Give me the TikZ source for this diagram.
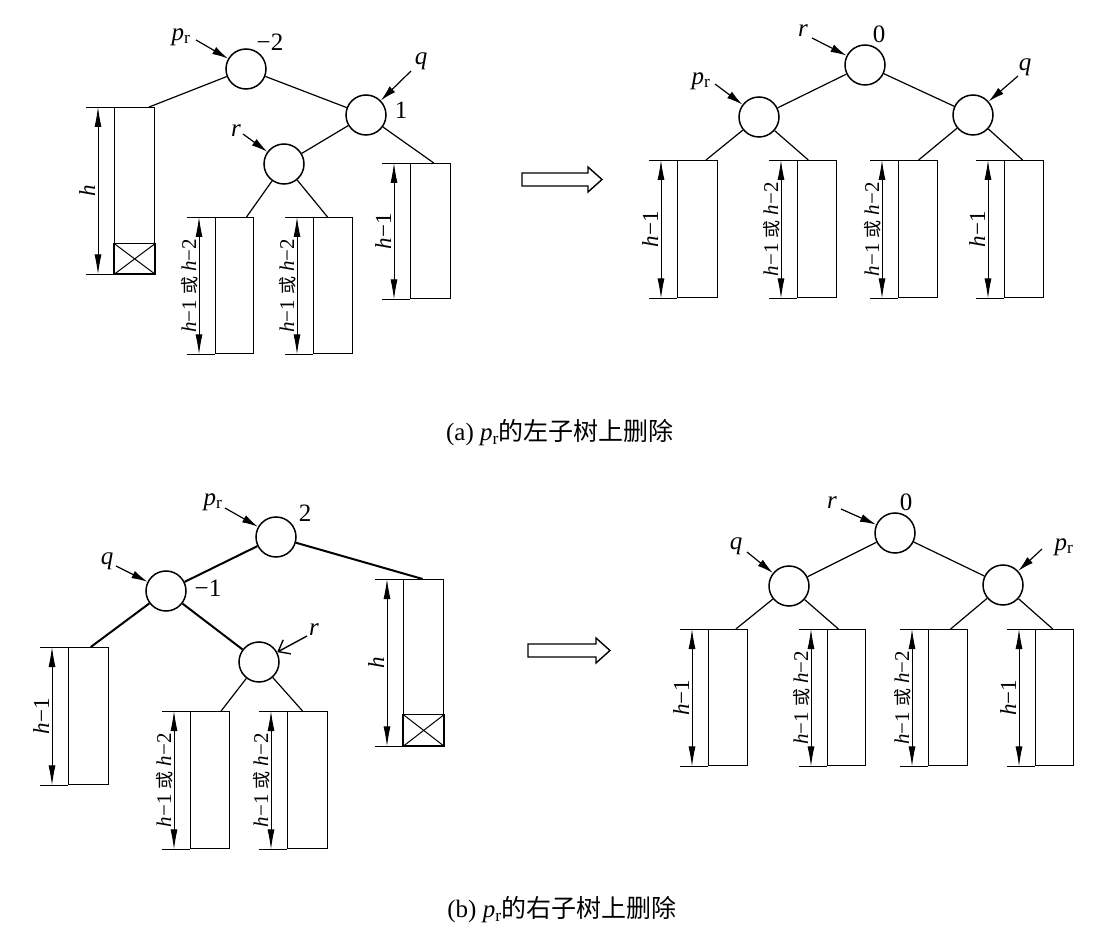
\documentclass[tikz,border=0pt]{standalone}
\usepackage{fontspec}
\setmainfont{Liberation Serif}
\newfontfamily\cjk{Noto Sans CJK SC}
\usetikzlibrary{arrows.meta,calc}
\newcommand\hh[1]{\textit{h}−#1}
\newcommand\orlab{{\fontsize{21}{22}\selectfont\hh1\hspace{5pt}{\cjk\fontsize{18}{18}\selectfont 或}\hspace{5pt}\hh2}}
\newcommand\pr{\textit{p}\textsubscript{r}}
% name, x, y, width, height, label
\newcommand\mysubtree[6]{%
  \node[box,minimum width=#4pt,minimum height=#5pt,anchor=north west] (#1) at (#2,#3) {};
  \draw[ext] ($(#1.north west)+(-28,0)$) -- (#1.north west);
  \draw[ext] ($(#1.south west)+(-28,0)$) -- (#1.south west);
  \draw[dimline] ($(#1.north west)+(-16,0)$) -- ($(#1.south west)+(-16,0)$);
  \node[lab,rotate=90,anchor=base] (#1l) at ($(#1.west)+(-19,0)$) {#6};
}
\newcommand\mycross[2]{%
  \draw[box] (#1.south west) rectangle ($(#1.south east)+(0,-#2)$);
  \draw[line width=1pt] (#1.south west) -- ($(#1.south east)+(0,-#2)$);
  \draw[line width=1pt] (#1.south east) -- ($(#1.south west)+(0,-#2)$);
}
\begin{document}
\begin{tikzpicture}[x=1pt,y=-1pt,
  nd/.style={circle,draw,line width=1.5pt,minimum size=40pt,inner sep=0pt},
  box/.style={rectangle,draw,line width=1.4pt,inner sep=0pt},
  edge/.style={line width=1.2pt},
  thickedge/.style={line width=2pt},
  ext/.style={line width=0.7pt},
  dimline/.style={line width=0.9pt,{Latex[length=20pt,width=7pt]}-{Latex[length=20pt,width=7pt]}},
  ptr/.style={line width=1.2pt,-{Latex[length=16pt,width=8pt]}},
  optr/.style={line width=1.4pt,-{Straight Barb[length=10pt,width=16pt,line width=1.4pt]}},
  lab/.style={font=\fontsize{23}{24}\selectfont,inner sep=0pt},
  tag/.style={font=\fontsize{25}{26}\selectfont,inner sep=0pt},
  captext/.style={font=\fontsize{25}{26}\selectfont,inner sep=0pt},
  hollow/.style={line width=1.4pt}
]
\useasboundingbox[fill=white] (0,0) rectangle (1096,941);

% ================= (a) left =================
\node[nd] (Aroot) at (246,69) {};
\node[nd] (Aq) at (366,115) {};
\node[nd] (Ar) at (284,164) {};
\node[tag] (Aprl) at (181,37) {\pr};
\node[tag] (Abf) at (270,42) {−2};
\node[tag] (Aql) at (421,61) {\textit{q}};
\node[tag] (Aqbf) at (401,110) {1};
\node[tag] (Arl) at (236,131) {\textit{r}};
\coordinate (Aps) at (196,40);
\coordinate (Aqs) at (411,71);
\coordinate (Ars) at (243,134);
\draw[ptr] (Aps) -- (Aroot);
\draw[ptr] (Aqs) -- (Aq);
\draw[ptr] (Ars) -- (Ar);

\mysubtree{A1}{114}{107}{40}{166}{\textit{h}}
\mycross{A1}{31}
\mysubtree{A2}{410}{163}{40}{135}{\hh1}
\mysubtree{A3}{215}{217}{38}{136}{\orlab}
\mysubtree{A4}{313}{217}{39}{136}{\orlab}
\draw[edge] (Aroot) -- ($(A1.north west)!0.85!(A1.north east)$);
\draw[edge] (Aroot) -- (Aq);
\draw[edge] (Aq) -- (Ar);
\draw[edge] (Aq) -- ($(A2.north west)!0.575!(A2.north east)$);
\draw[edge] (Ar) -- ($(A3.north west)!0.8!(A3.north east)$);
\draw[edge] (Ar) -- ($(A4.north west)!0.36!(A4.north east)$);

% hollow arrow (a)
\draw[hollow] (522,173) -- (588,173) -- (588,167) -- (602,179.5) -- (588,192) -- (588,186) -- (522,186) -- cycle;

% ================= (a) right =================
\node[nd] (Broot) at (865,65) {};
\node[nd] (Bp) at (759,117) {};
\node[nd] (Bq) at (973,115) {};
\node[tag] (Brl) at (803,31) {\textit{r}};
\node[tag] (Bbf) at (879,34) {0};
\node[tag] (Bprl) at (701,81) {\pr};
\node[tag] (Bql) at (1025,67) {\textit{q}};
\coordinate (Brs) at (812,38);
\coordinate (Bps) at (715,84);
\coordinate (Bqs) at (1018,76);
\draw[ptr] (Brs) -- (Broot);
\draw[ptr] (Bps) -- (Bp);
\draw[ptr] (Bqs) -- (Bq);

\mysubtree{B1}{677}{160}{40}{137}{\hh1}
\mysubtree{B2}{797}{160}{39}{137}{\orlab}
\mysubtree{B3}{898}{160}{39}{137}{\orlab}
\mysubtree{B4}{1004}{160}{39}{137}{\hh1}
\draw[edge] (Broot) -- (Bp);
\draw[edge] (Broot) -- (Bq);
\draw[edge] (Bp) -- ($(B1.north west)!0.7!(B1.north east)$);
\draw[edge] (Bp) -- ($(B2.north west)!0.28!(B2.north east)$);
\draw[edge] (Bq) -- ($(B3.north west)!0.51!(B3.north east)$);
\draw[edge] (Bq) -- ($(B4.north west)!0.46!(B4.north east)$);

\node[captext] (capa) at (560,433) {(a) \pr{\cjk\fontsize{25}{26}\selectfont 的左子树上删除}};

% ================= (b) left =================
\node[nd] (Croot) at (276,537) {};
\node[nd] (Cq) at (166,591) {};
\node[nd] (Cr) at (259,662) {};
\node[tag] (Cprl) at (213,502) {\pr};
\node[tag] (Cbf) at (305,513) {2};
\node[tag] (Cql) at (107,561) {\textit{q}};
\node[tag] (Cqbf) at (208,588) {−1};
\node[tag] (Crl) at (314,630) {\textit{r}};
\coordinate (Cps) at (225,508);
\coordinate (Cqs) at (116,566);
\coordinate (Crs) at (307,636);
\draw[ptr] (Cps) -- (Croot);
\draw[ptr] (Cqs) -- (Cq);
\draw[optr] (Crs) -- (Cr);

\mysubtree{C1}{68}{647}{40}{137}{\hh1}
\mysubtree{C2}{403}{579}{40}{166}{\textit{h}}
\mycross{C2}{32}
\mysubtree{C3}{190}{711}{39}{137}{\orlab}
\mysubtree{C4}{287}{711}{40}{137}{\orlab}
\draw[thickedge] (Croot) -- (Cq);
\draw[thickedge] (Croot) -- ($(C2.north west)!0.475!(C2.north east)$);
\draw[thickedge] (Cq) -- ($(C1.north west)!0.55!(C1.north east)$);
\draw[thickedge] (Cq) -- (Cr);
\draw[edge] (Cr) -- ($(C3.north west)!0.77!(C3.north east)$);
\draw[edge] (Cr) -- ($(C4.north west)!0.375!(C4.north east)$);

% hollow arrow (b)
\draw[hollow] (528,644) -- (596,644) -- (596,638) -- (610,650.5) -- (596,663) -- (596,657) -- (528,657) -- cycle;

% ================= (b) right =================
\node[nd] (Droot) at (895,533) {};
\node[nd] (Dq) at (789,586) {};
\node[nd] (Dp) at (1003,585) {};
\node[tag] (Drl) at (832,503) {\textit{r}};
\node[tag] (Dbf) at (906,502) {0};
\node[tag] (Dql) at (736,546) {\textit{q}};
\node[tag] (Dprl) at (1064,547) {\pr};
\coordinate (Drs) at (841,509);
\coordinate (Dqs) at (747,552);
\coordinate (Dps) at (1042,549);
\draw[ptr] (Drs) -- (Droot);
\draw[ptr] (Dqs) -- (Dq);
\draw[ptr] (Dps) -- (Dp);

\mysubtree{D1}{708}{629}{39}{136}{\hh1}
\mysubtree{D2}{827}{629}{38}{136}{\orlab}
\mysubtree{D3}{928}{629}{39}{136}{\orlab}
\mysubtree{D4}{1035}{629}{38}{136}{\hh1}
\draw[edge] (Droot) -- (Dq);
\draw[edge] (Droot) -- (Dp);
\draw[edge] (Dq) -- ($(D1.north west)!0.69!(D1.north east)$);
\draw[edge] (Dq) -- ($(D2.north west)!0.29!(D2.north east)$);
\draw[edge] (Dp) -- ($(D3.north west)!0.56!(D3.north east)$);
\draw[edge] (Dp) -- ($(D4.north west)!0.45!(D4.north east)$);

\node[captext] (capb) at (562,910) {(b) \pr{\cjk\fontsize{25}{26}\selectfont 的右子树上删除}};
\end{tikzpicture}
\end{document}
